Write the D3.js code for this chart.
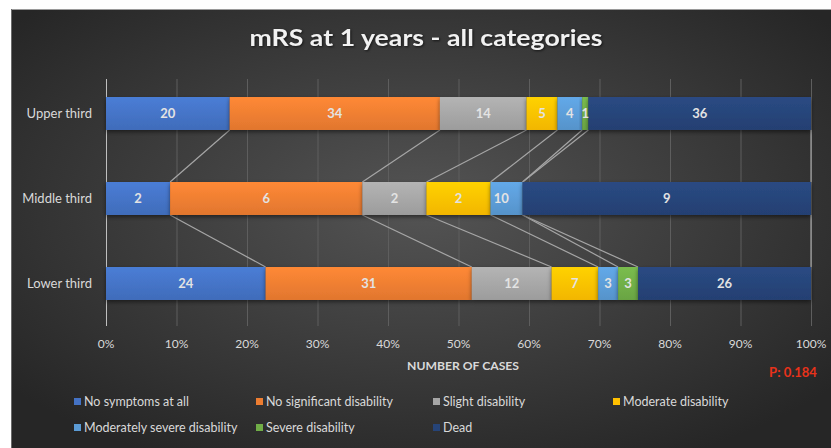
<!DOCTYPE html>
<html>
<head>
<meta charset="utf-8">
<script src="https://cdn.jsdelivr.net/npm/d3@7"></script>
<style>
  body { margin: 0; background: #fff; }
  svg { display: block; font-family: Lato, "Open Sans", sans-serif; }
</style>
</head>
<body>
<div class="chart"></div>
<script>
const width = 831
const height = 448

const groups = ["Upper third", "Middle third", "Lower third"]
const seriesNames = ["No symptoms at all", "No significant disability", "Slight disability",
    "Moderate disability", "Moderately severe disability", "Severe disability", "Dead"]
const colors = ["#4472c4", "#ed7d31", "#a5a5a5", "#ffc000", "#5b9bd5", "#70ad47", "#264478"]
const upper = [20, 34, 14, 5, 4, 1, 36]
const middle = [2, 6, 2, 2, 1, 0, 9]
const lower = [24, 31, 12, 7, 3, 3, 26]
const ticks = [0, 0.1, 0.2, 0.3, 0.4, 0.5, 0.6, 0.7, 0.8, 0.9, 1]
const pValue = "P: 0.184"

const rows = [upper, middle, lower]

// stacked, normalised to 100%
const table = groups.map((g, i) => {
    const row = { group: g }
    seriesNames.forEach((s, j) => row[s] = rows[i][j])
    return row
})
const stack = d3.stack().keys(seriesNames).offset(d3.stackOffsetExpand)
const series = stack(table)

const svg = d3.select(".chart")
    .append("svg")
    .attr("width", width)
    .attr("height", height)

const defs = svg.append("defs")

const bg = defs.append("radialGradient")
    .attr("id", "bg")
    .attr("cx", "50%").attr("cy", "45%").attr("r", "65%")
bg.append("stop").attr("offset", "0%").attr("stop-color", "#545454")
bg.append("stop").attr("offset", "100%").attr("stop-color", "#262626")

colors.forEach((c, i) => {
    const lg = defs.append("linearGradient")
        .attr("id", "grad" + i)
        .attr("x1", 0).attr("y1", 0).attr("x2", 0).attr("y2", 1)
    lg.append("stop").attr("offset", "0%").attr("stop-color", d3.color(c).brighter(0.25))
    lg.append("stop").attr("offset", "100%").attr("stop-color", d3.color(c).darker(0.15))
})

const shadow = defs.append("filter").attr("id", "shadow")
    .attr("x", "-5%").attr("y", "-20%").attr("width", "110%").attr("height", "160%")
shadow.append("feDropShadow")
    .attr("dx", 0).attr("dy", 2).attr("stdDeviation", 2)
    .attr("flood-color", "#000").attr("flood-opacity", 0.5)

// chart area
svg.append("rect")
    .attr("x", 11).attr("y", 9)
    .attr("width", width - 11).attr("height", height - 9)
    .attr("fill", "url(#bg)")
svg.append("line")
    .attr("x1", 11).attr("x2", width).attr("y1", 9.5).attr("y2", 9.5)
    .attr("stroke", "#9a9a9a")
svg.append("line")
    .attr("x1", 11.5).attr("x2", 11.5).attr("y1", 9).attr("y2", height)
    .attr("stroke", "#6a6a6a")

svg.append("text")
    .attr("x", 426).attr("y", 46)
    .attr("text-anchor", "middle")
    .attr("fill", "#f2f2f2")
    .style("font-size", "22px")
    .style("font-weight", "700")
    .attr("textLength", 353)
    .attr("lengthAdjust", "spacingAndGlyphs")
    .style("filter", "drop-shadow(1px 1px 1px rgba(0,0,0,0.6))")
    .text("mRS at 1 years - all categories")

const xScale = d3.scaleLinear().domain([0, 1]).range([106, 811])
const yScale = d3.scaleBand()
    .domain(groups)
    .range([71, 326])
    .paddingInner(0.612)
    .paddingOuter(0.306)

const gridTop = 79
const gridBottom = 326

svg.append("g")
    .selectAll("line")
    .data(ticks)
    .enter().append("line")
    .attr("x1", d => xScale(d) + 0.5)
    .attr("x2", d => xScale(d) + 0.5)
    .attr("y1", gridTop)
    .attr("y2", gridBottom)
    .attr("stroke", d => d === 0 ? "#bfbfbf" : "#5e5e5e")
    .attr("stroke-width", 1)

svg.append("g")
    .selectAll("text")
    .data(ticks)
    .enter().append("text")
    .attr("x", d => xScale(d))
    .attr("y", 348)
    .attr("text-anchor", "middle")
    .attr("fill", "#d9d9d9")
    .style("font-size", "12px")
    .text(d3.format(".0%"))

svg.append("g")
    .selectAll("text")
    .data(groups)
    .enter().append("text")
    .attr("x", 92)
    .attr("y", d => yScale(d) + yScale.bandwidth() / 2 + 4.5)
    .attr("text-anchor", "end")
    .attr("fill", "#d9d9d9")
    .style("font-size", "13px")
    .text(d => d)

svg.append("text")
    .attr("x", 463).attr("y", 370)
    .attr("text-anchor", "middle")
    .attr("fill", "#d9d9d9")
    .style("font-size", "12px")
    .style("font-weight", "700")
    .attr("textLength", 112)
    .attr("lengthAdjust", "spacingAndGlyphs")
    .text("NUMBER OF CASES")

svg.append("text")
    .attr("x", 793).attr("y", 377)
    .attr("text-anchor", "middle")
    .attr("fill", "#e8321a")
    .style("font-size", "13px")
    .style("font-weight", "700")
    .text(pValue)

// series lines between neighbouring bars
const lineG = svg.append("g")
series.forEach(s => {
    for (let i = 0; i < groups.length - 1; i++) {
        lineG.append("line")
            .attr("x1", xScale(s[i][1]))
            .attr("y1", yScale(groups[i]) + yScale.bandwidth())
            .attr("x2", xScale(s[i + 1][1]))
            .attr("y2", yScale(groups[i + 1]))
            .attr("stroke", "#a6a6a6")
            .attr("stroke-width", 1.2)
    }
})

// bars
svg.append("g")
    .selectAll("g")
    .data(series)
    .enter().append("g")
    .attr("fill", (d, i) => "url(#grad" + i + ")")
    .attr("filter", "url(#shadow)")
    .selectAll("rect")
    .data(d => d)
    .enter().append("rect")
    .attr("x", d => xScale(d[0]))
    .attr("y", d => yScale(d.data.group))
    .attr("width", d => xScale(d[1]) - xScale(d[0]))
    .attr("height", yScale.bandwidth())

// data labels (a zero segment's label sits right after its neighbour's)
const labelG = svg.append("g")
series.forEach((s, j) => {
    s.forEach((d, i) => {
        const value = rows[i][j]
        let x = (xScale(d[0]) + xScale(d[1])) / 2
        const next = series[j + 1] ? rows[i][j + 1] : null
        if (next === 0) x -= 9
        if (value === 0) {
            const prev = series[j - 1][i]
            x = (xScale(prev[0]) + xScale(prev[1])) / 2 - 1.5
        }
        labelG.append("text")
            .attr("x", x)
            .attr("y", yScale(d.data.group) + yScale.bandwidth() / 2 + 4.5)
            .attr("text-anchor", "middle")
            .attr("fill", "#e3e3e3")
            .style("font-size", "13px")
            .style("font-weight", "700")
            .text(value)
    })
})

// legend
const legendX = [74, 256, 433, 613]
const legendY = [406, 432]
const legend = svg.append("g")
    .selectAll("g")
    .data(seriesNames)
    .enter().append("g")
    .attr("transform", (d, i) => `translate(${legendX[i % 4]}, ${legendY[Math.floor(i / 4)]})`)
legend.append("rect")
    .attr("x", 0).attr("y", -8)
    .attr("width", 7).attr("height", 7)
    .attr("fill", (d, i) => colors[i])
legend.append("text")
    .attr("x", 10).attr("y", 0)
    .attr("fill", "#d9d9d9")
    .style("font-size", "12.5px")
    .text(d => d)
</script>
</body>
</html>
